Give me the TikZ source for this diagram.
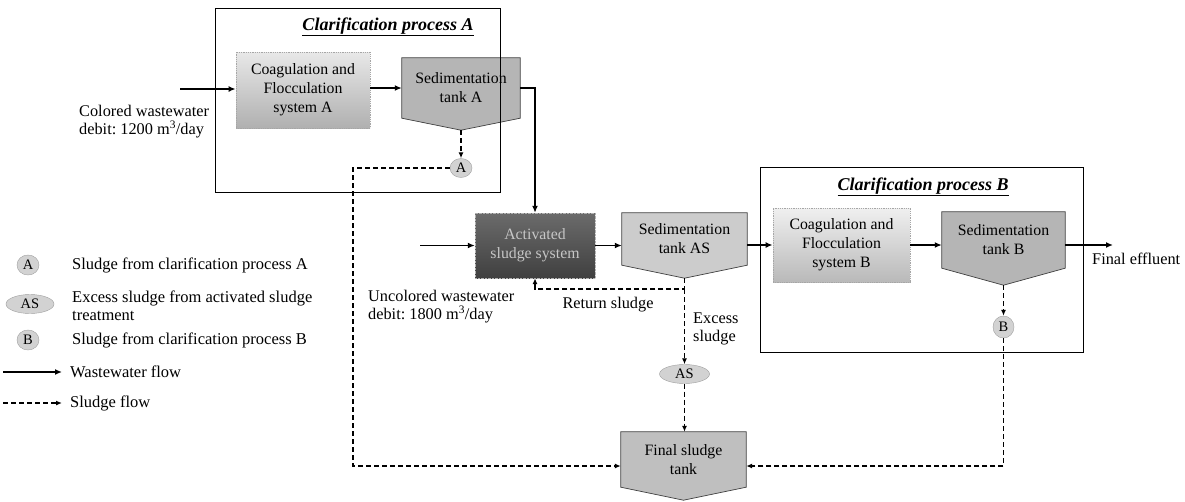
\documentclass[tikz,border=0pt]{standalone}
\usepackage{fontspec}
\setmainfont{Liberation Serif}
\usetikzlibrary{arrows.meta,backgrounds,calc,shapes.geometric}
\newcommand{\drawtank}[3]{%
  \begin{pgfonlayer}{background}
    \filldraw[tankline, fill=#3] (#1.north west) -- (#1.north east) -- (#1.south east) -- ($(#1.south)+(0,#2)$) -- (#1.south west) -- cycle;
  \end{pgfonlayer}
  \coordinate (#1pt) at ($(#1.south)+(0,#2)$);}
\begin{document}
\begin{tikzpicture}[x=1pt,y=-1pt,
  lbl/.style={font=\fontsize{16.3pt}{18pt}\selectfont, align=left, inner sep=0pt},
  legtext/.style={font=\fontsize{16.5pt}{18pt}\selectfont, align=left, inner sep=0pt, anchor=west},
  box/.style={font=\fontsize{15.8pt}{19pt}\selectfont, align=center, inner sep=0pt, rectangle},
  coag/.style={box, draw=gray!70, densely dotted, line width=0.8pt},
  tankline/.style={draw=black!75, line width=0.7pt},
  sludgemark/.style={ellipse, draw=gray!75, fill=gray!35, inner sep=0pt, font=\fontsize{14.5pt}{16pt}\selectfont, minimum height=19pt},
  flow/.style={line width=1.6pt, -{Latex[length=7pt,width=6pt]}},
  sflow/.style={line width=1.3pt, dash pattern=on 5pt off 3pt, -{Latex[length=6pt,width=5pt]}},
  frame/.style={draw, line width=1pt},
  title/.style={font=\fontsize{18pt}{20pt}\selectfont\bfseries\itshape, inner sep=0pt}]
\useasboundingbox (0,0) rectangle (1185,501);

% frames
\draw[frame] (215,8) rectangle (500,192);
\draw[frame] (760,167) rectangle (1083,352);
\node[title] (tA) at (388,27) {\underline{Clarification process A}};
\node[title] (tB) at (923,187) {\underline{Clarification process B}};

% process A
\node[coag, top color=gray!18, bottom color=gray!62, minimum width=134pt, minimum height=76pt] (coagA) at (303,90) {Coagulation and\\Flocculation\\system A};
\node[box, minimum width=118pt, minimum height=60pt] (sedA) at (461,88) {Sedimentation\\tank A};
\drawtank{sedA}{12}{gray!58}
\node[sludgemark, minimum width=22pt] (cA) at (461,168) {A};

% activated sludge
\node[box, draw=gray!60, densely dotted, top color=black!58, bottom color=black!75, text=gray!45, minimum width=120pt, minimum height=65pt] (act) at (535,245.5) {Activated\\sludge system};
\node[box, minimum width=125pt, minimum height=52pt] (sedAS) at (684.5,239) {Sedimentation\\tank AS};
\drawtank{sedAS}{13}{gray!40}
\coordinate (ret) at (684.5,289);
\node[sludgemark, minimum width=50pt] (cAS) at (684.5,374) {AS};

% process B
\node[coag, top color=gray!12, bottom color=gray!55, minimum width=137pt, minimum height=74pt] (coagB) at (841.5,245) {Coagulation and\\Flocculation\\system B};
\node[box, minimum width=123pt, minimum height=56pt] (sedB) at (1003.5,240) {Sedimentation\\tank B};
\drawtank{sedB}{17}{gray!58}
\node[sludgemark, minimum width=21pt, minimum height=22pt] (cB) at (1003.5,327) {B};

% final sludge tank
\node[box, minimum width=125pt, minimum height=55pt] (final) at (683.5,459.5) {Final sludge\\tank};
\drawtank{final}{13}{gray!50}

% labels
\node[lbl, anchor=west] (lblA) at (79,122) {Colored wastewater\\debit:\ 1200 m\textsuperscript{3}/day};
\node[lbl, anchor=west] (lblU) at (368,307) {Uncolored wastewater\\debit:\ 1800 m\textsuperscript{3}/day};
\node[lbl, anchor=center] (lblR) at (608,305) {Return sludge};
\node[lbl, anchor=west] (lblE) at (693,329) {Excess\\sludge};
\node[lbl, anchor=west] (lblF) at (1092,259) {Final effluent};

% coordinates
\coordinate (inA) at (180,89);
\coordinate (inU) at (420,245.5);
\coordinate (out) at (1113,245);
\coordinate (jA) at (353,466);

% wastewater flow
\draw[flow] (inA) -- (inA -| coagA.west);
\draw[flow] (coagA.east |- sedA.east) -- (sedA.west);
\draw[flow] (sedA.east) -| (act.north);
\draw[flow] (inU) -- (act.west);
\draw[flow] (act.east) -- (act.east -| sedAS.west);
\draw[flow] (sedAS.east |- coagB.west) -- (coagB.west);
\draw[flow] (coagB.east) -- (coagB.east -| sedB.west);
\draw[flow] (sedB.east |- coagB.east) -- (out);

% sludge flow
\draw[sflow] (sedApt) -- (cA.north);
\draw[sflow] (cA.west) -| (jA) -- (jA -| final.west);
\draw[sflow] (sedASpt) -- (ret) -| (act.south);
\draw[sflow] (ret) -- (cAS.north);
\draw[sflow] (cAS.south) -- (cAS.south |- final.north);
\draw[sflow] (sedBpt) -- (cB.north);
\draw[sflow] (cB.south) |- (final.east |- jA);

% legend
\node[sludgemark, minimum width=22pt, minimum height=20pt] (lA) at (28,265) {A};
\node[legtext] (lAt) at (72,265) {Sludge from clarification process A};
\node[sludgemark, minimum width=48pt] (lAS) at (30,304) {AS};
\node[legtext] (lASt) at (72,306) {Excess sludge from activated sludge\\treatment};
\node[sludgemark, minimum width=22pt, minimum height=20pt] (lB) at (28,340) {B};
\node[legtext] (lBt) at (72,340) {Sludge from clarification process B};
\coordinate (lw1) at (3,372);
\coordinate (lw2) at (62,372);
\draw[flow] (lw1) -- (lw2);
\node[legtext] (lwt) at (70,372) {Wastewater flow};
\coordinate (ls1) at (3,403);
\coordinate (ls2) at (62,403);
\draw[sflow] (ls1) -- (ls2);
\node[legtext] (lst) at (70,403) {Sludge flow};
\end{tikzpicture}
\end{document}
